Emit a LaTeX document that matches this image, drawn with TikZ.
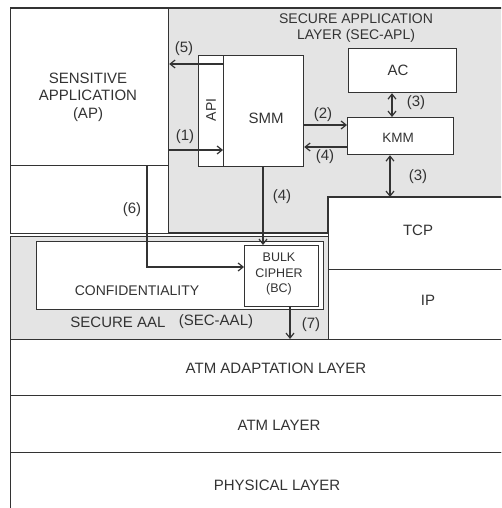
\documentclass[tikz,border=0pt]{standalone}
\usepackage{fontspec}
\setmainfont{Liberation Sans}
\usetikzlibrary{arrows.meta,calc}
\definecolor{ink}{HTML}{333333}
\definecolor{shade}{HTML}{E4E4E4}
\tikzset{
  ln/.style={draw=ink, line width=1.2pt},
  boxw/.style={ln, fill=white, rectangle, inner sep=0pt},
  txt/.style={text=ink, inner sep=0pt, align=center, font=\fontsize{15}{17.5}\selectfont},
  sml/.style={txt, font=\fontsize{13.5}{15.5}\selectfont},
  bc/.style={txt, font=\fontsize{12.5}{15.5}\selectfont},
  arr/.style={draw=ink, line width=1.2pt, -{Straight Barb[length=5pt,width=8pt]}},
  darr/.style={draw=ink, line width=1.2pt, {Straight Barb[length=5pt,width=8pt]}-{Straight Barb[length=5pt,width=8pt]}},
}
\newcommand{\bx}[5]{\node[boxw, minimum width=#4-#2, minimum height=#5-#3, anchor=north west] (#1) at (#2,#3) {};}
\begin{document}
\begin{tikzpicture}[x=1pt,y=-1pt]
\useasboundingbox (0,0) rectangle (501,508);
\clip (0,0) rectangle (501,508);
% outer frame top/left
\coordinate (tl) at (10,8);
% SEC-APL shaded region
\path[ln, fill=shade] (168,8) -- (530,8) -- (530,197) -- (328,197) -- (328,233) -- (168,233) -- cycle;
\draw[ln] (10,8) -- (168,8);
% left column
\bx{ap}{10}{8}{168}{165}
\bx{aplow}{10}{165}{168}{233}
% SEC-AAL shaded
\node[ln, fill=shade, rectangle, inner sep=0pt, minimum width=318, minimum height=103, anchor=north west] (aal) at (10,236) {};
% confidentiality and BC
\bx{conf}{36}{241}{323}{309}
\bx{bc}{244}{245}{318}{306}
% TCP / IP
\bx{tcp}{328}{197}{530}{269}
\bx{ip}{328}{269}{530}{339}
% layers
\bx{aalyr}{10}{339}{530}{395}
\bx{atm}{10}{395}{530}{452}
\bx{phy}{10}{452}{530}{530}
% SEC-APL boxes
\bx{api}{198}{55}{223}{166}
\bx{smm}{223}{55}{303}{166}
\bx{ac}{348}{48}{456}{92}
\bx{kmm}{347}{117}{453}{154}
% texts
\node[txt, font=\fontsize{14}{16}\selectfont] (secapl) at (356,28) {SECURE APPLICATION\\LAYER (SEC-APL)};
\node[txt] (aptxt) at (88,97) {SENSITIVE\\APPLICATION\\(AP)};
\node[txt, font=\fontsize{14}{16}\selectfont, rotate=90] (apitxt) at (211,110) {API};
\node[txt] (smmtxt) at (266,118) {SMM};
\node[txt] (actxt) at (398,70) {AC};
\node[sml] (kmmtxt) at (398,138) {KMM};
\node[txt] (tcptxt) at (418,230) {TCP};
\node[txt] (iptxt) at (428,300) {IP};
\node[txt, font=\fontsize{14}{16}\selectfont] (conftxt) at (137,291) {CONFIDENTIALITY};
\node[bc] (bctxt) at (279,274) {BULK\\CIPHER\\(BC)};
\node[txt] (secaal) at (118,322) {SECURE AAL};
\node[txt] (secaal2) at (216,322) {(SEC-AAL)};
\node[txt] (aaltxt) at (276,368) {ATM ADAPTATION LAYER};
\node[txt] (atmtxt) at (279,425) {ATM LAYER};
\node[txt] (phytxt) at (277,485) {PHYSICAL LAYER};
% connector labels
\node[txt] (l5) at (184,49) {(5)};
\node[txt] (l1) at (185,137) {(1)};
\node[txt] (l2) at (323,115) {(2)};
\node[txt] (l4a) at (325,157) {(4)};
\node[txt] (l3a) at (416,103) {(3)};
\node[txt] (l3b) at (418,177) {(3)};
\node[txt] (l4b) at (282,197) {(4)};
\node[txt] (l6) at (132,210) {(6)};
\node[txt] (l7) at (311,325) {(7)};
% connectors
\draw[arr] (smm.west |- 0,64) -- (ap.east |- 0,64);
\draw[arr] (ap.east |- 0,150) -- (smm.west |- 0,150);
\draw[arr] (smm.east |- 0,125) -- (kmm.west |- 0,125);
\draw[arr] (kmm.west |- 0,147) -- (smm.east |- 0,147);
\draw[darr] (392,92 |- ac.south) -- (392,92 |- kmm.north);
\draw[darr] (390,0 |- kmm.south) -- (390,0 |- tcp.north);
\draw[arr] (263,0 |- smm.south) -- (263,0 |- bc.north);
\draw[arr] (147,0 |- ap.south) -- (147,267) -- (bc.west |- 0,267);
\draw[arr] (290,0 |- bc.south) -- (290,0 |- aalyr.north);
\end{tikzpicture}
\end{document}
